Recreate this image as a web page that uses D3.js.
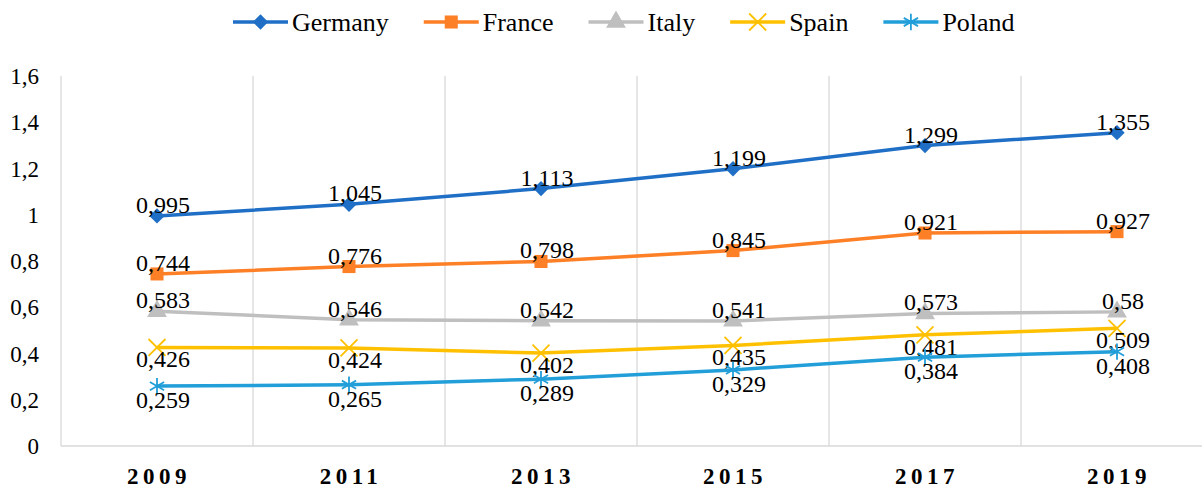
<!DOCTYPE html>
<html>
<head>
  <meta charset="utf-8">
  <title>Line chart - countries</title>
  <script src="https://d3js.org/d3.v7.min.js"></script>
  <style>
    body { margin: 0; background: #fff; }
    text { font-family: "Liberation Serif", "Times New Roman", Times, serif; fill: #000; }
    .grid line { stroke: #d9d9d9; stroke-width: 1.3px; }
    .series path { fill: none; stroke-width: 3.5px; }
  </style>
</head>
<body>
  <svg width="1202" height="490"></svg>

  <script>
    const years = ["2009", "2011", "2013", "2015", "2017", "2019"];
    const countries = ["Germany", "France", "Italy", "Spain", "Poland"];
    const germany = [0.995, 1.045, 1.113, 1.199, 1.299, 1.355];
    const france  = [0.744, 0.776, 0.798, 0.845, 0.921, 0.927];
    const italy   = [0.583, 0.546, 0.542, 0.541, 0.573, 0.58];
    const spain   = [0.426, 0.424, 0.402, 0.435, 0.481, 0.509];
    const poland  = [0.259, 0.265, 0.289, 0.329, 0.384, 0.408];
    const yTicks = [0, 0.2, 0.4, 0.6, 0.8, 1, 1.2, 1.4, 1.6];

    const colors = ["#1f6fc6", "#fd7f26", "#bfbfbf", "#ffc000", "#229ed9"];
    const symbols = [d3.symbolDiamond2, d3.symbolSquare, d3.symbolTriangle, d3.symbolTimes, d3.symbolAsterisk];
    const symSizes = [150, 170, 170, 190, 190];
    const labelDy = [-3, -3, -3, 20, 22];
    const values = [germany, france, italy, spain, poland];

    const series = countries.map((name, i) => ({
      name: name,
      color: colors[i],
      symbol: symbols[i],
      size: symSizes[i],
      dy: labelDy[i],
      values: values[i]
    }));

    const svg = d3.select("svg");
    const mLeft = 61, mRight = 1213, mTop = 76, mBottom = 446;

    const x = d3.scaleBand().domain(years).range([mLeft, mRight]);
    const y = d3.scaleLinear().domain([0, 1.6]).range([mBottom, mTop]);
    const fmt = v => String(v).replace(".", ",");

    // vertical gridlines between categories
    const grid = svg.append("g").attr("class", "grid");
    grid.selectAll("line.v")
      .data(years.slice(1))
      .enter().append("line")
      .attr("x1", d => x(d)).attr("x2", d => x(d))
      .attr("y1", mTop).attr("y2", mBottom);
    grid.append("line").attr("x1", mLeft).attr("x2", mLeft).attr("y1", mTop).attr("y2", mBottom);
    grid.append("line").attr("x1", mLeft).attr("x2", mRight).attr("y1", mBottom).attr("y2", mBottom);

    // y axis labels
    svg.append("g").selectAll("text")
      .data(yTicks)
      .enter().append("text")
      .attr("x", 39)
      .attr("y", d => y(d) + 8)
      .attr("text-anchor", "end")
      .style("font-size", "23px")
      .text(d => fmt(d));

    // x axis labels
    svg.append("g").selectAll("text")
      .data(years)
      .enter().append("text")
      .attr("x", d => x(d) + x.bandwidth() / 2 + 2)
      .attr("y", 484)
      .attr("text-anchor", "middle")
      .style("font-size", "23px")
      .style("font-weight", "bold")
      .style("letter-spacing", "4.5px")
      .text(d => d);

    const cx = d => x(d) + x.bandwidth() / 2;
    const line = d3.line()
      .x((d, i) => cx(years[i]))
      .y(d => y(d));

    const isFilled = s => s.symbol !== d3.symbolTimes && s.symbol !== d3.symbolAsterisk;
    const marker = (sel, s) => sel
      .attr("d", d3.symbol().type(s.symbol).size(s.size)())
      .style("fill", isFilled(s) ? s.color : "none")
      .style("stroke", s.color)
      .style("stroke-width", isFilled(s) ? 0 : 1.8);

    const gs = svg.selectAll("g.series")
      .data(series)
      .enter().append("g")
      .attr("class", "series");

    gs.append("path")
      .attr("d", d => line(d.values))
      .style("stroke", d => d.color);

    gs.each(function(s) {
      const g = d3.select(this);
      g.selectAll("path.m")
        .data(s.values)
        .enter().append("path")
        .attr("class", "m")
        .attr("transform", (d, i) => `translate(${cx(years[i])},${y(d)})`)
        .call(marker, s);

      g.selectAll("text")
        .data(s.values)
        .enter().append("text")
        .attr("x", (d, i) => cx(years[i]) + 6)
        .attr("y", d => y(d) + s.dy)
        .attr("text-anchor", "middle")
        .style("font-size", "24px")
        .text(d => fmt(d));
    });

    // legend
    const legend = svg.append("g");
    let lx = 233;
    series.forEach(s => {
      const item = legend.append("g").attr("transform", `translate(${lx},22)`);
      item.append("line")
        .attr("x1", 0).attr("x2", 55).attr("y1", 0).attr("y2", 0)
        .style("stroke", s.color).style("stroke-width", 3.5);
      item.append("path")
        .attr("transform", "translate(27.5,0)")
        .call(marker, s);
      const t = item.append("text")
        .attr("x", 59).attr("y", 9)
        .style("font-size", "26px")
        .text(s.name);
      lx += 59 + t.node().getComputedTextLength() + 35;
    });
  </script>
</body>
</html>
